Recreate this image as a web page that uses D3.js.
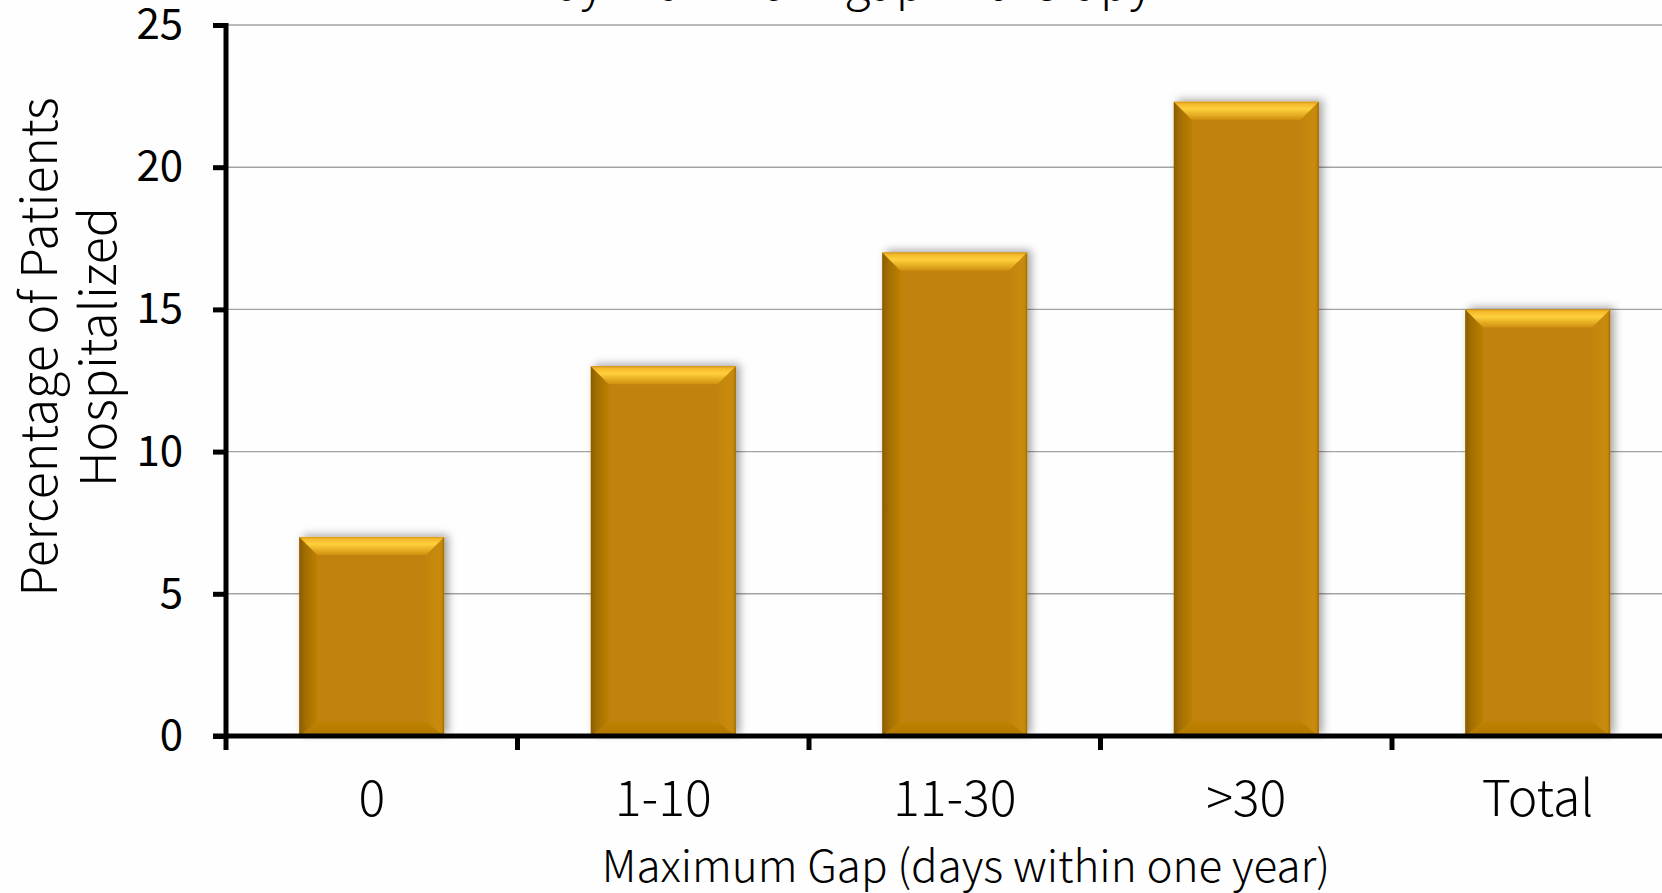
<!DOCTYPE html>
<html>
<head>
<meta charset="utf-8">
<script src="https://cdn.jsdelivr.net/npm/d3@7"></script>
<style>
  html, body { margin: 0; padding: 0; background: #fefefe; overflow: hidden; }
  svg { display: block; }
</style>
</head>
<body>
<svg id="chart" width="1662" height="893"></svg>
<script>
// Hospitalization rate by maximum gap in therapy
const categories = ["0", "1-10", "11-30", ">30", "Total"];
const values = [7, 13, 17, 22.3, 15];
const yTicks = [0, 5, 10, 15, 20, 25];
const titleText = "by maximum gap in therapy";
const xTitle = "Maximum Gap (days within one year)";
const yTitleLines = ["Percentage of Patients", "Hospitalized"];

const W = 1662, H = 893;
const plotLeft = 226, plotTop = 25, plotBottom = 736;
const step = 291.5;

const svg = d3.select("#chart");
const sans = "'Noto Sans CJK JP', 'Noto Sans', sans-serif";

const x = d3.scaleBand()
  .domain(categories)
  .range([plotLeft, plotLeft + step * categories.length])
  .paddingInner(0.503)
  .paddingOuter(0.2515);

const y = d3.scaleLinear().domain([0, 25]).range([plotBottom, plotTop]);

// gradients and shadow for the bevelled bars
const defs = svg.append("defs");
const grad = (id, x2, y2, stops) => {
  const g = defs.append("linearGradient").attr("id", id)
    .attr("x1", 0).attr("y1", 0).attr("x2", x2).attr("y2", y2);
  stops.forEach(([o, c]) => g.append("stop").attr("offset", o).attr("stop-color", c));
};
grad("bevTop", 0, 1, [[0, "#d99616"], [0.12, "#f4b92c"], [0.4, "#ffd03c"], [1, "#d0900f"]]);
grad("bevLeft", 1, 0, [[0, "#8a5d04"], [0.35, "#a36f05"], [1, "#bd8006"]]);
grad("bevRight", 1, 0, [[0, "#c28507"], [0.7, "#c98b0a"], [0.88, "#c48707"], [1, "#9a6804"]]);
grad("bevBottom", 0, 1, [[0, "#bf8206"], [1, "#b07602"]]);

const shadow = defs.append("filter").attr("id", "barShadow")
  .attr("x", "-20%").attr("y", "-20%").attr("width", "140%").attr("height", "140%");
shadow.append("feDropShadow").attr("dx", 4).attr("dy", -2)
  .attr("stdDeviation", 4).attr("flood-color", "#000").attr("flood-opacity", 0.35);

// title (its line sits at the very top edge)
svg.append("text")
  .attr("x", 852).attr("y", 0)
  .attr("text-anchor", "middle")
  .attr("font-family", sans).attr("font-weight", 300).attr("font-size", 48).attr("fill", "#000")
  .text(titleText);

// horizontal gridlines
svg.append("g").selectAll("line")
  .data(yTicks.filter(d => d > 0))
  .join("line")
  .attr("x1", plotLeft).attr("x2", W)
  .attr("y1", d => y(d)).attr("y2", d => y(d))
  .attr("stroke", "#a3a3a3").attr("stroke-width", 1.4);

// bars with bevelled edges
const bt = 18, bb = 14, bs = 18;
const bars = svg.append("g").selectAll("g")
  .data(categories.map((c, i) => ({ c, v: values[i] })))
  .join("g")
  .attr("filter", "url(#barShadow)");

bars.each(function (d) {
  const g = d3.select(this);
  const x0 = x(d.c), w = x.bandwidth();
  const y0 = y(d.v), h = y(0) - y(d.v);
  const poly = pts => pts.map(p => p.join(",")).join(" ");
  g.append("rect").attr("x", x0).attr("y", y0).attr("width", w).attr("height", h)
    .attr("fill", "#c18307");
  g.append("polygon").attr("points", poly([[x0, y0], [x0 + bs, y0 + bt], [x0 + bs, y0 + h - bb], [x0, y0 + h]]))
    .attr("fill", "url(#bevLeft)");
  g.append("polygon").attr("points", poly([[x0 + w, y0], [x0 + w, y0 + h], [x0 + w - bs, y0 + h - bb], [x0 + w - bs, y0 + bt]]))
    .attr("fill", "url(#bevRight)");
  g.append("polygon").attr("points", poly([[x0, y0 + h], [x0 + w, y0 + h], [x0 + w - bs, y0 + h - bb], [x0 + bs, y0 + h - bb]]))
    .attr("fill", "url(#bevBottom)");
  g.append("polygon").attr("points", poly([[x0, y0], [x0 + w, y0], [x0 + w - bs, y0 + bt], [x0 + bs, y0 + bt]]))
    .attr("fill", "url(#bevTop)");
});

// y axis
const yAxis = svg.append("g")
  .attr("transform", `translate(${plotLeft},0)`)
  .call(d3.axisLeft(y).tickValues(yTicks).tickSize(13).tickSizeOuter(0).tickPadding(30));
yAxis.select(".domain").attr("stroke", "#000").attr("stroke-width", 5)
  .attr("d", `M0,${y(25) - 2}V${plotBottom + 2}`);
yAxis.selectAll(".tick line").attr("stroke", "#000").attr("stroke-width", 5);
yAxis.selectAll(".tick text")
  .attr("font-family", sans).attr("font-size", 42).attr("fill", "#000");

// x axis: baseline, boundary ticks and category labels
svg.append("line")
  .attr("x1", plotLeft - 13).attr("x2", W)
  .attr("y1", plotBottom).attr("y2", plotBottom)
  .attr("stroke", "#000").attr("stroke-width", 5);

svg.append("g").selectAll("line")
  .data(d3.range(categories.length + 1))
  .join("line")
  .attr("x1", i => plotLeft + i * x.step()).attr("x2", i => plotLeft + i * x.step())
  .attr("y1", plotBottom).attr("y2", plotBottom + 14)
  .attr("stroke", "#000").attr("stroke-width", 5);

svg.append("g").selectAll("text")
  .data(categories)
  .join("text")
  .attr("x", d => x(d) + x.bandwidth() / 2)
  .attr("y", 816)
  .attr("text-anchor", "middle")
  .attr("font-family", sans).attr("font-weight", 300).attr("font-size", 50).attr("fill", "#000")
  .text(d => d);

// axis titles
svg.append("text")
  .attr("x", 966).attr("y", 882)
  .attr("text-anchor", "middle")
  .attr("font-family", sans).attr("font-weight", 300).attr("font-size", 44).attr("fill", "#000")
  .text(xTitle);

const yt = svg.append("text")
  .attr("transform", "translate(0,347) rotate(-90)")
  .attr("text-anchor", "middle")
  .attr("font-family", sans).attr("font-weight", 300).attr("font-size", 50).attr("fill", "#000");
yTitleLines.forEach((t, i) => {
  yt.append("tspan").attr("x", 0).attr("y", 57 + i * 59).text(t);
});
</script>
</body>
</html>
